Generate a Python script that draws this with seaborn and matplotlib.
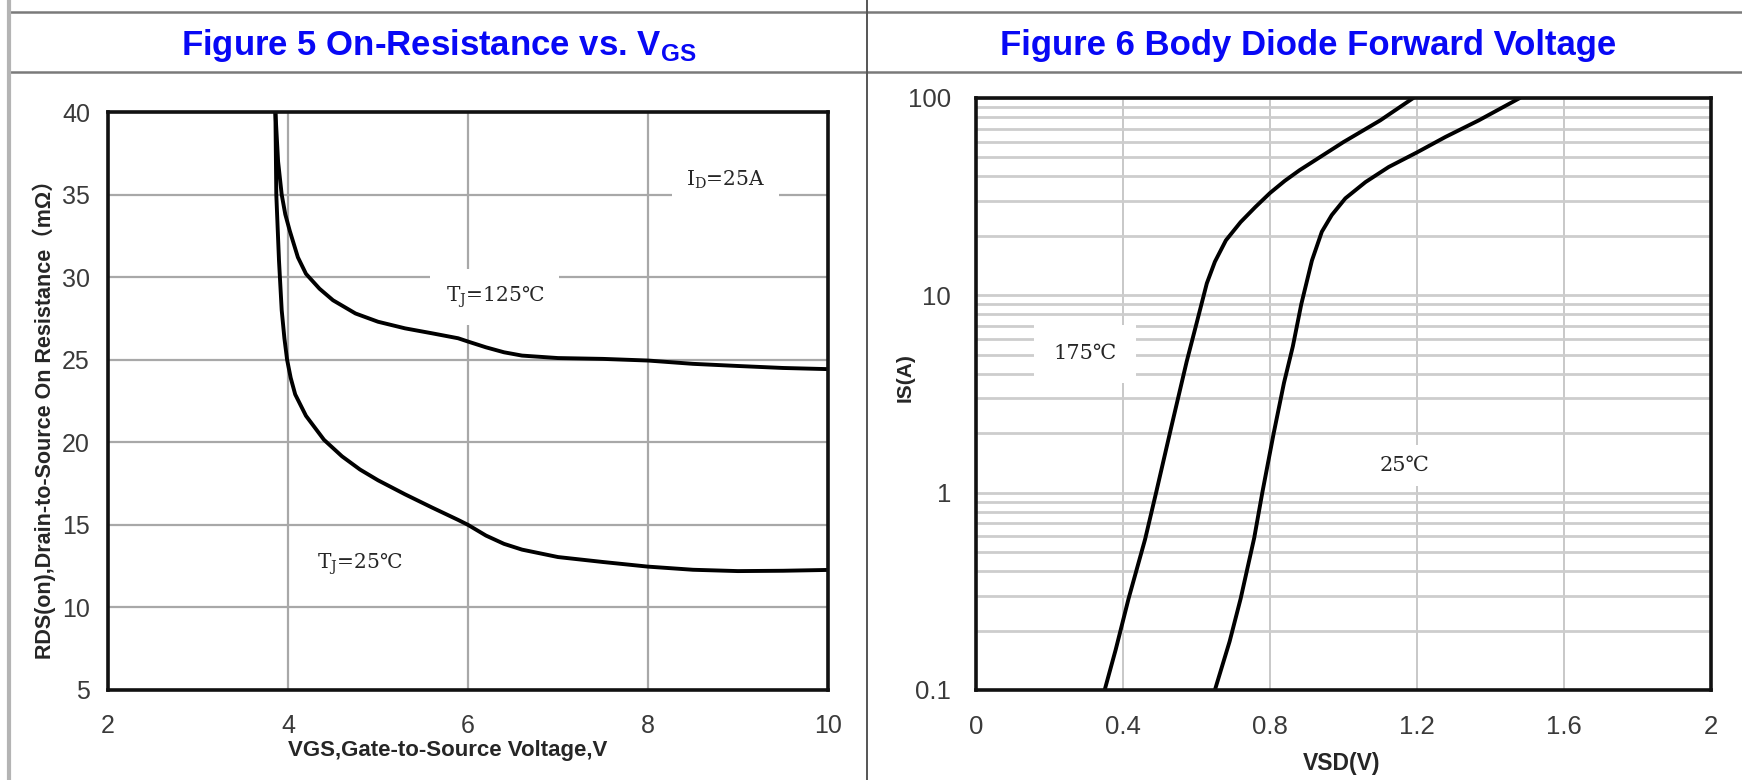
import numpy as np
import pandas as pd
import seaborn as sns
import matplotlib.pyplot as plt
from matplotlib.lines import Line2D
from matplotlib.ticker import LogLocator, NullFormatter

# Figure 5: on-resistance vs VGS (ID = 25A)
vgs_125 = [3.86, 3.89, 3.93, 3.97, 4.02, 4.11, 4.2, 4.35, 4.5, 4.75, 5.0, 5.3, 5.6, 5.89,
           6.0, 6.2, 6.4, 6.6, 7.0, 7.5, 8.0, 8.5, 9.0, 9.5, 10.0]
rds_125 = [40, 37, 35, 33.8, 32.8, 31.2, 30.2, 29.3, 28.6, 27.8, 27.3, 26.9, 26.6, 26.3,
           26.1, 25.75, 25.45, 25.25, 25.1, 25.05, 24.95, 24.75, 24.62, 24.5, 24.43]
vgs_25 = [3.86, 3.87, 3.9, 3.93, 3.96, 3.99, 4.03, 4.08, 4.2, 4.4, 4.6, 4.8, 5.0, 5.3,
          5.6, 5.89, 6.0, 6.2, 6.4, 6.6, 7.0, 7.5, 8.0, 8.5, 9.0, 9.5, 10.0]
rds_25 = [40, 35, 31, 28, 26.3, 25, 23.9, 22.9, 21.6, 20.15, 19.15, 18.35, 17.7, 16.85,
          16.05, 15.3, 15.0, 14.35, 13.85, 13.5, 13.05, 12.75, 12.47, 12.28, 12.2, 12.22, 12.27]

# Figure 6: body diode forward voltage
vsd_175 = [0.35, 0.38, 0.415, 0.46, 0.49, 0.53, 0.573, 0.6, 0.628, 0.65, 0.68, 0.72, 0.76,
           0.8, 0.84, 0.88, 0.92, 1.0, 1.1, 1.19]
is_175 = [0.1, 0.16, 0.29, 0.58, 1.0, 2.1, 4.6, 7.2, 11.5, 14.8, 19, 23.5, 28,
          33, 38, 43, 48, 59.8, 77, 100]
vsd_25 = [0.65, 0.69, 0.72, 0.757, 0.779, 0.81, 0.838, 0.862, 0.885, 0.914, 0.941, 0.968,
          1.005, 1.06, 1.123, 1.2, 1.277, 1.368, 1.48]
is_25 = [0.1, 0.176, 0.29, 0.59, 1.0, 2.0, 3.6, 5.5, 9.0, 15, 21, 25.5,
         31, 37.5, 44.7, 53, 63.4, 77, 100]

fig5_xticks = [2, 4, 6, 8, 10]
fig5_yticks = [5, 10, 15, 20, 25, 30, 35, 40]
fig6_xticks = [0, 0.4, 0.8, 1.2, 1.6, 2]
fig6_xlabels = ["0", "0.4", "0.8", "1.2", "1.6", "2"]
fig6_yticks = [0.1, 1, 10, 100]
fig6_ylabels = ["0.1", "1", "10", "100"]

sns.set_theme(style="white")
plt.rcParams['font.family'] = ['Liberation Sans', 'DejaVu Sans', 'Noto Sans CJK SC']
SERIF = 'DejaVu Serif'
TXT = "#262626"

fig = plt.figure(figsize=(17.42, 7.8), dpi=100)
ax1 = fig.add_axes([0.0620, 0.1154, 0.4133, 0.7410])
ax2 = fig.add_axes([0.5603, 0.1154, 0.4219, 0.7590])

df5 = pd.concat([
    pd.DataFrame({"VGS": vgs_125, "RDS": rds_125, "TJ": "125"}),
    pd.DataFrame({"VGS": vgs_25, "RDS": rds_25, "TJ": "25"}),
])
sns.lineplot(data=df5, x="VGS", y="RDS", units="TJ", estimator=None, sort=False,
             color="black", lw=2.8, zorder=4, ax=ax1)

df6 = pd.concat([
    pd.DataFrame({"VSD": vsd_175, "IS": is_175, "T": "175"}),
    pd.DataFrame({"VSD": vsd_25, "IS": is_25, "T": "25"}),
])
sns.lineplot(data=df6, x="VSD", y="IS", units="T", estimator=None, sort=False,
             color="black", lw=2.8, zorder=4, ax=ax2)

# left panel
ax1.set_xlim(2, 10)
ax1.set_ylim(5, 40)
ax1.set_xticks(fig5_xticks)
ax1.set_yticks(fig5_yticks)
ax1.grid(True, color="#a8a8a8", lw=1.6)
ax1.tick_params(axis="both", length=0, labelsize=18, labelcolor="#3a3a3a")
ax1.tick_params(axis="x", pad=17)
ax1.tick_params(axis="y", pad=13)
ax1.set_xlabel("VGS,Gate-to-Source Voltage,V", fontsize=16, fontweight="bold", color=TXT)
ax1.set_ylabel("RDS(on),Drain-to-Source On Resistance（mΩ）", fontsize=15.5,
               fontweight="bold", color=TXT)
ax1.xaxis.set_label_coords(0.472, -0.104)
ax1.yaxis.set_label_coords(-0.089, 0.4775)
ax1.xaxis.label.set_va("center")
ax1.yaxis.label.set_va("center")

ax1.text(8.86, 35.9, r"I$_\mathregular{D}$=25A", family=SERIF, fontsize=14.5,
         ha="center", va="center", bbox=dict(facecolor="white", edgecolor="none", pad=10),
         color=TXT, zorder=3)
ax1.text(6.3, 28.8, r"T$_\mathregular{J}$=125℃", family=SERIF, fontsize=14.5,
         ha="center", va="center", bbox=dict(facecolor="white", edgecolor="none", pad=11),
         color=TXT, zorder=3)
ax1.text(4.8, 12.6, r"T$_\mathregular{J}$=25℃", family=SERIF, fontsize=14.5,
         ha="center", va="center", color=TXT, zorder=3)

# right panel
ax2.set_yscale("log")
ax2.set_xlim(0, 2)
ax2.set_ylim(0.1, 100)
ax2.set_xticks(fig6_xticks)
ax2.set_xticklabels(fig6_xlabels)
ax2.set_yticks(fig6_yticks)
ax2.set_yticklabels(fig6_ylabels)
ax2.yaxis.set_minor_locator(LogLocator(base=10, subs=[2, 3, 4, 5, 6, 7, 8, 9]))
ax2.yaxis.set_minor_formatter(NullFormatter())
ax2.xaxis.grid(True, color="#c4c4c4", lw=1.3)
ax2.yaxis.grid(True, which="both", color="#cdcdcd", lw=2.0)
ax2.tick_params(axis="both", which="both", length=0, labelsize=18.5, labelcolor="#3a3a3a")
ax2.tick_params(axis="x", pad=18)
ax2.tick_params(axis="y", pad=18)
ax2.set_xlabel("VSD(V)", fontsize=16.5, fontweight="bold", color=TXT)
ax2.set_ylabel("IS(A)", fontsize=15, fontweight="bold", color=TXT)
ax2.xaxis.set_label_coords(0.498, -0.125)
ax2.yaxis.set_label_coords(-0.0966, 0.527)
ax2.xaxis.label.set_va("center")
ax2.yaxis.label.set_va("center")

ax2.text(0.297, 5.06, "175℃", family=SERIF, fontsize=15, ha="center", va="center",
         bbox=dict(facecolor="white", edgecolor="none", pad=14), color=TXT, zorder=3)
ax2.text(1.165, 1.37, "25℃", family=SERIF, fontsize=15, ha="center", va="center",
         bbox=dict(facecolor="white", edgecolor="none", pad=8), color=TXT, zorder=3)

for ax in (ax1, ax2):
    for sp in ax.spines.values():
        sp.set_color("#111111")
        sp.set_linewidth(2.6)
        sp.set_zorder(5)

# table frame around the two figures
W, H = 1742, 780
def hline(y, x0, x1, color, lw):
    fig.add_artist(Line2D([x0 / W, x1 / W], [1 - y / H, 1 - y / H],
                          transform=fig.transFigure, color=color, lw=lw))

def vline(x, y0, y1, color, lw):
    fig.add_artist(Line2D([x / W, x / W], [1 - y0 / H, 1 - y1 / H],
                          transform=fig.transFigure, color=color, lw=lw))

hline(12, 9, W, "#7a7a7a", 1.8)
hline(72, 9, W, "#7a7a7a", 1.8)
vline(9, 0, H, "#b4b4b4", 3.0)
vline(867, 0, H, "#555555", 1.4)

fig.text(439 / W, 1 - 46 / H, r"Figure 5 On-Resistance vs. V$_\mathregular{GS}$",
         ha="center", va="center", fontsize=25, fontweight="bold", color="#0808f5")
fig.text(1308 / W, 1 - 46 / H, "Figure 6 Body Diode Forward Voltage",
         ha="center", va="center", fontsize=25, fontweight="bold", color="#0808f5")

fig.savefig("out.png", dpi=100, facecolor="white")
